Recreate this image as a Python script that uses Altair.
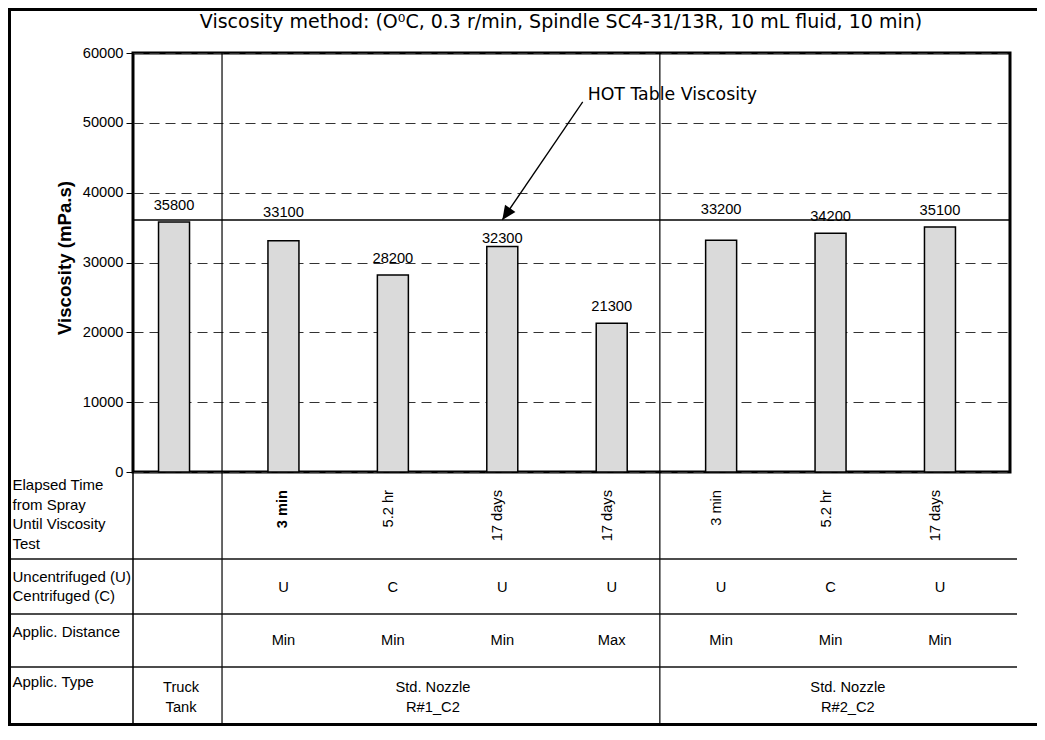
import altair as alt
import pandas as pd

# ---------------- data ----------------
viscosity = [35800, 33100, 28200, 32300, 21300, 33200, 34200, 35100]
elapsed = ["", "3 min", "5.2 hr", "17 days", "17 days", "3 min", "5.2 hr", "17 days"]
centrifuge = ["", "U", "C", "U", "U", "U", "C", "U"]
distance = ["", "Min", "Min", "Min", "Max", "Min", "Min", "Min"]
group_names = ["Truck\nTank", "Std. Nozzle\nR#1_C2", "Std. Nozzle\nR#2_C2"]
hot_table_viscosity = 36100
hot_label = "HOT Table Viscosity"
y_ticks = [0, 10000, 20000, 30000, 40000, 50000, 60000]
title_text = "Viscosity method: (O\u2070C, 0.3 r/min, Spindle SC4-31/13R, 10 mL fluid, 10 min)"
y_title = "Viscosity (mPa.s)"
row_headers = [
    ["Elapsed Time", "from Spray", "Until Viscosity", "Test"],
    ["Uncentrifuged (U)", "Centrifuged (C)"],
    ["Applic. Distance"],
    ["Applic. Type"],
]

# ---------------- layout ----------------
PW, PH = 877, 419
YMAX = 60000
X_DOMAIN = [-0.375, 7.64]
SEPARATORS = [0.4386, 4.44]          # group separators, in bar-slot units
GROUP_X = [0.064, 2.366, 6.158]      # group label centres, in bar-slot units
LABEL_DY = [-16, -28, -16, -7.5, -16.5, -30, -16.5, -16]  # px above bar tops
ARIAL = "Liberation Sans"
VERD = "DejaVu Sans"
FS = 14.67

idx = list(range(len(viscosity)))
df = pd.DataFrame({
    "idx": idx,
    "viscosity": viscosity,
    "elapsed": elapsed,
    "centrifuge": centrifuge,
    "distance": distance,
})
df["label_y"] = [v - dy * YMAX / PH for v, dy in zip(viscosity, LABEL_DY)]

xs = alt.Scale(domain=X_DOMAIN, nice=False, zero=False, padding=0)
ys = alt.Scale(domain=[0, YMAX], nice=False, zero=True, padding=0)
X = alt.X("idx:Q", scale=xs, axis=None)
YAXIS = alt.Axis(
    values=y_ticks, format="d", grid=True, gridDash=[10, 6], gridColor="#333333", gridWidth=1,
    domain=False, tickSize=7, tickColor="black", tickWidth=1,
    labelFont=ARIAL, labelFontSize=FS, labelColor="black", labelPadding=3, title=None)


def Y(field):
    return alt.Y(field, scale=ys, axis=YAXIS, title=None)


one = pd.DataFrame({"k": [0]})


def ptext(s, px, py, **kw):
    return alt.Chart(one).mark_text(text=s, **kw).encode(x=alt.value(px), y=alt.value(py))


layers = []

# bars with y axis
layers.append(alt.Chart(df).mark_bar(size=31, fill="#dadada", stroke="black", strokeWidth=1.5).encode(
    x=X, y=Y("viscosity:Q")))

# HOT table line
hot_line_df = pd.DataFrame({"y": [hot_table_viscosity]})
layers.append(alt.Chart(hot_line_df).mark_rule(color="black", strokeWidth=1.5).encode(y=Y("y:Q")))

# separators (run down through the table)
sep_df = pd.DataFrame({"idx": SEPARATORS})
layers.append(alt.Chart(sep_df).mark_rule(color="black", strokeWidth=1.2).encode(
    x=X, y=alt.value(0), y2=alt.value(PH + 253)))

# bar value labels
layers.append(alt.Chart(df).mark_text(font=ARIAL, fontSize=FS, baseline="middle", color="black").encode(
    x=X, y=Y("label_y:Q"), text=alt.Text("viscosity:Q", format="d")))

# arrow + label
arrow_df = pd.DataFrame({"idx": [3.735], "y": [53000], "x2": [3.0], "y2": [hot_table_viscosity]})
layers.append(alt.Chart(arrow_df).mark_rule(color="black", strokeWidth=1.3).encode(
    x=X, y=Y("y:Q"), x2="x2:Q", y2="y2:Q"))
head_df = pd.DataFrame({"idx": [3.0], "y": [hot_table_viscosity]})
layers.append(alt.Chart(head_df).mark_point(
    shape="M0,0L-0.45,-1L0.45,-1Z", filled=True, size=784, angle=34.5, color="black", opacity=1,
    strokeWidth=0).encode(x=X, y=Y("y:Q")))
hot_df = pd.DataFrame({"idx": [3.78], "y": [54000], "t": [hot_label]})
layers.append(alt.Chart(hot_df).mark_text(font=VERD, fontSize=17.33, align="left", baseline="middle",
                                          color="black").encode(
    x=X, y=Y("y:Q"), text="t:N"))

# title and y title
layers.append(ptext(title_text, 561 - 133, 22 - 53, font=VERD, fontSize=19, align="center",
                    baseline="middle", color="black"))
layers.append(ptext(y_title, 65 - 133, 258 - 53, font=ARIAL, fontSize=18.67, fontWeight="bold",
                    angle=270, align="center", baseline="middle", color="black"))

# table grid
for ry in [506, 561, 614]:
    layers.append(alt.Chart(one).mark_rule(color="#111111", strokeWidth=1.5).encode(
        x=alt.value(-124), x2=alt.value(884), y=alt.value(ry)))
layers.append(alt.Chart(one).mark_rule(color="black", strokeWidth=1.5).encode(
    x=alt.value(0), y=alt.value(PH), y2=alt.value(PH + 253)))
# outer border
layers.append(alt.Chart(one).mark_rect(fill="transparent", stroke="black", strokeWidth=3).encode(
    x=alt.value(-123.5), x2=alt.value(930), y=alt.value(-43.5), y2=alt.value(671.5)))

# row headers
first_line = [432, 523.7, 578.7, 628.7]
for lines, fy in zip(row_headers, first_line):
    for k, line in enumerate(lines):
        layers.append(ptext(line, -120.5, fy + 19.5 * k, font=ARIAL, fontSize=15, align="left",
                            baseline="middle", color="black"))

# row 1: elapsed time (rotated)
el = df[df["elapsed"] != ""]
layers.append(alt.Chart(el[el["idx"] == 1]).mark_text(
    font=ARIAL, fontSize=FS, fontWeight="bold", angle=270, align="right", baseline="middle",
    color="black").encode(x=X, y=alt.value(437), text="elapsed:N"))
layers.append(alt.Chart(el[el["idx"] != 1]).mark_text(
    font=ARIAL, fontSize=FS, angle=270, align="right", baseline="middle", dy=-4,
    color="black").encode(x=X, y=alt.value(437), text="elapsed:N"))
# row 2, 3
layers.append(alt.Chart(el).mark_text(font=ARIAL, fontSize=FS, baseline="middle", color="black").encode(
    x=X, y=alt.value(534.7), text="centrifuge:N"))
layers.append(alt.Chart(el).mark_text(font=ARIAL, fontSize=FS, baseline="middle", color="black").encode(
    x=X, y=alt.value(588), text="distance:N"))
# row 4: group names
gdf = pd.DataFrame({
    "idx": GROUP_X,
    "l1": [g.split("\n")[0] for g in group_names],
    "l2": [g.split("\n")[1] for g in group_names],
})
layers.append(alt.Chart(gdf).mark_text(font=ARIAL, fontSize=FS, baseline="middle", color="black").encode(
    x=X, y=alt.value(635), text="l1:N"))
layers.append(alt.Chart(gdf).mark_text(font=ARIAL, fontSize=FS, baseline="middle", color="black").encode(
    x=X, y=alt.value(655), text="l2:N"))

chart = alt.layer(*layers).properties(
    width=PW, height=PH,
    padding={"left": 125, "top": 45, "right": 27, "bottom": 254},
    autosize=alt.AutoSizeParams(type="none"),
    background="white",
).configure_view(stroke="black", strokeWidth=3)

chart.save("out.html", embed_options={"renderer": "svg", "actions": False})
